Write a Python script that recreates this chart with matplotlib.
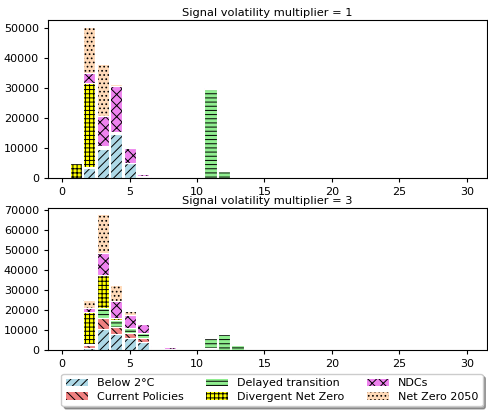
import matplotlib
matplotlib.use("Agg")
import matplotlib.pyplot as plt
import numpy as np

x = [1, 2, 3, 4, 5, 6, 7, 8, 9, 10, 11, 12, 13, 14]
scenarios = ["Below 2°C", "Current Policies", "Delayed transition",
             "Divergent Net Zero", "NDCs", "Net Zero 2050"]
colors = ["lightblue", "lightcoral", "lightgreen", "yellow", "violet", "peachpuff"]
hatches = ["////", "\\\\\\\\", "----", "++++", "xxx", "...."]

titles = ["Signal volatility multiplier = 1", "Signal volatility multiplier = 3"]

# multiplier = 1
m1_below2 = [0, 3200, 9600, 14600, 4900, 500, 100, 0, 0, 0, 0, 0, 0, 0]
m1_current = [0, 400, 400, 400, 100, 60, 40, 0, 0, 0, 0, 0, 0, 0]
m1_delayed = [0, 0, 400, 400, 0, 0, 0, 0, 0, 0, 29800, 2200, 0, 0]
m1_dnz = [5000, 28000, 200, 100, 0, 0, 0, 0, 0, 0, 0, 0, 0, 0]
m1_ndc = [0, 3500, 10200, 15200, 5100, 700, 200, 0, 0, 0, 250, 80, 0, 0]
m1_nz2050 = [250, 15400, 17200, 800, 0, 0, 0, 0, 0, 0, 0, 0, 0, 0]

# multiplier = 3
m3_below2 = [0, 1000, 10500, 7800, 5800, 4100, 300, 0, 0, 0, 300, 0, 0, 0]
m3_current = [0, 1400, 5500, 3900, 2500, 2000, 800, 700, 0, 0, 700, 0, 0, 0]
m3_delayed = [0, 600, 5000, 3400, 2600, 2500, 500, 0, 0, 0, 5100, 8100, 2400, 0]
m3_dnz = [0, 16000, 16500, 900, 0, 0, 0, 0, 0, 0, 0, 0, 0, 0]
m3_ndc = [0, 2000, 11200, 8400, 6700, 4500, 400, 700, 0, 0, 500, 500, 500, 350]
m3_nz2050 = [0, 4100, 19300, 8100, 2100, 0, 0, 0, 400, 0, 0, 0, 0, 0]

panels = [
    [m1_below2, m1_current, m1_delayed, m1_dnz, m1_ndc, m1_nz2050],
    [m3_below2, m3_current, m3_delayed, m3_dnz, m3_ndc, m3_nz2050],
]

plt.rcParams["hatch.linewidth"] = 0.7
fig = plt.figure(figsize=(4.88, 4.16), dpi=100)
ax1 = fig.add_axes([48 / 488, 1 - 178 / 416, 439 / 488, 158 / 416])
ax2 = fig.add_axes([48 / 488, 1 - 350 / 416, 439 / 488, 142 / 416])
axes = [ax1, ax2]

handles = []
for ax, series, title in zip(axes, panels, titles):
    bottom = np.zeros(len(x))
    for i, (vals, name) in enumerate(zip(series, scenarios)):
        v = np.array(vals, dtype=float)
        b = ax.bar(x, v, width=0.9, bottom=bottom, color=colors[i],
                   hatch=hatches[i], edgecolor="black", linewidth=0,
                   label=name)
        ax.bar(x, v, width=0.9, bottom=bottom, fill=False,
               edgecolor="white", linewidth=0.8)
        if ax is ax1:
            handles.append(b)
        bottom += v
    ax.set_title(title, fontsize=8.2, pad=3)
    ax.set_xlim(-1.05, 31.5)
    ax.set_xticks([0, 5, 10, 15, 20, 25, 30])
    ax.tick_params(labelsize=8, length=3)

ax1.set_ylim(0, 52800)
ax1.set_yticks([0, 10000, 20000, 30000, 40000, 50000])
ax2.set_ylim(0, 71000)
ax2.set_yticks([0, 10000, 20000, 30000, 40000, 50000, 60000, 70000])

fig.legend(handles=handles, labels=scenarios, loc="center",
           bbox_to_anchor=(272 / 488, 1 - 390 / 416), ncol=3, fontsize=8,
           shadow=True, frameon=True, columnspacing=2.0,
           handlelength=2.0, labelspacing=0.3, fancybox=True)

fig.savefig("out.png", dpi=100)
